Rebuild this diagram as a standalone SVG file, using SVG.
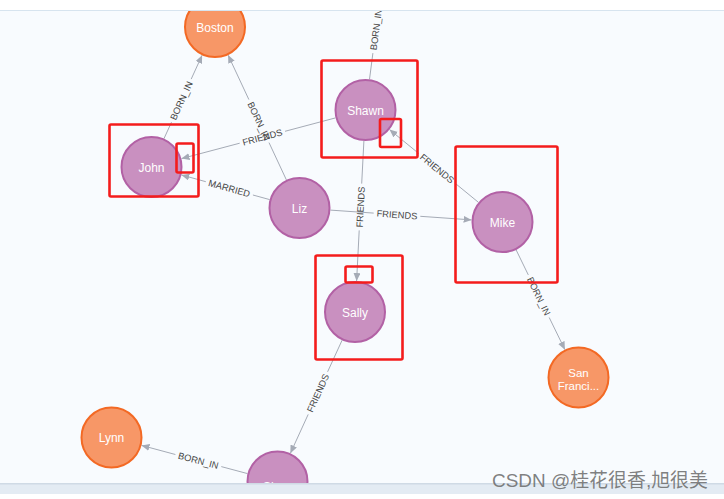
<svg xmlns="http://www.w3.org/2000/svg" width="724" height="499" viewBox="0 0 724 499">
<defs>
<marker id="arr" markerUnits="userSpaceOnUse" markerWidth="9" markerHeight="8" refX="8" refY="3.5" orient="auto">
<path d="M0,0 L8,3.5 L0,7 z" fill="#a5abb6"/>
</marker>
<style>
.e{stroke:#a5abb6;stroke-width:1;fill:none}
.el{font-family:"Liberation Sans",Arial,sans-serif;font-size:9.3px;fill:#444;text-anchor:middle}
.p circle{fill:#c990c0;stroke:#b261a5;stroke-width:2}
.o circle{fill:#f79767;stroke:#f36924;stroke-width:2}
.nl{font-family:"Liberation Sans",Arial,sans-serif;font-size:12px;fill:#fff;text-anchor:middle}
.sf{font-size:11.5px}
.rb{fill:none;stroke:#f41c1c;stroke-width:2.6}
</style>
</defs>
<rect x="0" y="0" width="724" height="499" fill="#f8fbfe"/>
<g id="connectors">
<!-- John -> Boston -->
<line class="e" x1="163.9" y1="138.8" x2="171.5" y2="122.2"/>
<line class="e" x1="191.2" y1="79.1" x2="202.1" y2="55.2" marker-end="url(#arr)"/>
<text class="el" transform="translate(181.35,100.65) rotate(-65.4)" dy="3.3">BORN_IN</text>
<!-- Liz -> Boston -->
<line class="e" x1="286.4" y1="179.9" x2="269.0" y2="142.6"/>
<line class="e" x1="248.9" y1="99.6" x2="228.1" y2="55.1" marker-end="url(#arr)"/>
<text class="el" transform="translate(258.95,121.1) rotate(65)" dy="3.3">BORN_IN</text>
<!-- Shawn -> John -->
<line class="e" x1="335.5" y1="117.9" x2="285.0" y2="131.3"/>
<line class="e" x1="239.7" y1="143.2" x2="181.5" y2="158.6" marker-end="url(#arr)"/>
<text class="el" transform="translate(262.35,137.25) rotate(-14.8)" dy="3.3">FRIENDS</text>
<!-- Liz -> John -->
<line class="e" x1="269.65" y1="199.6" x2="252.9" y2="195.0"/>
<line class="e" x1="205.8" y1="181.7" x2="181.35" y2="174.9" marker-end="url(#arr)"/>
<text class="el" transform="translate(229.35,188.33) rotate(15.7)" dy="3.3">MARRIED</text>
<!-- Liz -> Mike -->
<line class="e" x1="330.4" y1="210.1" x2="373.7" y2="213.1"/>
<line class="e" x1="420.3" y1="216.3" x2="471.6" y2="219.9" marker-end="url(#arr)"/>
<text class="el" transform="translate(397,214.7) rotate(3.9)" dy="3.3">FRIENDS</text>
<!-- Mike -> Shawn -->
<line class="e" x1="478.5" y1="202.4" x2="455.2" y2="183.3"/>
<line class="e" x1="419.0" y1="153.7" x2="389.5" y2="129.6" marker-end="url(#arr)"/>
<text class="el" transform="translate(437.1,168.53) rotate(39.3)" dy="3.3">FRIENDS</text>
<!-- Shawn -> Sally -->
<line class="e" x1="363.9" y1="141.0" x2="361.7" y2="183.6"/>
<line class="e" x1="359.2" y1="230.4" x2="356.6" y2="281.0" marker-end="url(#arr)"/>
<text class="el" transform="translate(360.45,207) rotate(-87)" dy="3.3">FRIENDS</text>
<!-- Shawn -> (off-screen) -->
<line class="e" x1="369.5" y1="79.3" x2="372.9" y2="53.1"/>
<text class="el" transform="translate(376,29.6) rotate(-82.6)" dy="3.3">BORN_IN</text>
<!-- Mike -> San Francisco -->
<line class="e" x1="516.1" y1="249.85" x2="528.3" y2="274.9"/>
<line class="e" x1="549.2" y1="317.5" x2="564.9" y2="349.65" marker-end="url(#arr)"/>
<text class="el" transform="translate(538.75,296.16) rotate(63.95)" dy="3.3">BORN_IN</text>
<!-- Sally -> bottom node -->
<line class="e" x1="342.1" y1="340.2" x2="327.6" y2="371.8"/>
<line class="e" x1="308.2" y1="414.4" x2="290.4" y2="453.3" marker-end="url(#arr)"/>
<text class="el" transform="translate(317.9,393.1) rotate(-65.4)" dy="3.3">FRIENDS</text>
<!-- bottom node -> Lynn -->
<line class="e" x1="247.5" y1="473.6" x2="221.3" y2="466.6"/>
<line class="e" x1="175.4" y1="454.5" x2="141.5" y2="445.4" marker-end="url(#arr)"/>
<text class="el" transform="translate(198.35,460.55) rotate(14.85)" dy="3.3">BORN_IN</text>
</g>
<g id="node-boston" class="o"><circle cx="215" cy="27" r="30"/><text class="nl" x="215" y="31.5">Boston</text></g>
<g id="node-john" class="p"><circle cx="151.5" cy="167" r="30"/><text class="nl" x="151.5" y="171.5">John</text></g>
<g id="node-shawn" class="p"><circle cx="365.5" cy="110" r="30"/><text class="nl" x="365.5" y="114.5">Shawn</text></g>
<g id="node-liz" class="p"><circle cx="299.5" cy="208" r="30"/><text class="nl" x="299.5" y="212.5">Liz</text></g>
<g id="node-mike" class="p"><circle cx="502.5" cy="222" r="30"/><text class="nl" x="502.5" y="226.5">Mike</text></g>
<g id="node-sally" class="p"><circle cx="355" cy="312" r="30"/><text class="nl" x="355" y="316.5">Sally</text></g>
<g id="node-sf" class="o"><circle cx="578.5" cy="377.5" r="30"/><text class="nl sf" x="578.5" y="377">San</text><text class="nl sf" x="578.5" y="389.5">Franci...</text></g>
<g id="node-lynn" class="o"><circle cx="111.5" cy="437.5" r="30"/><text class="nl" x="111.5" y="442">Lynn</text></g>
<g id="node-bottom" class="p"><circle cx="277.5" cy="481.5" r="30"/><text class="nl" x="263" y="491" style="text-anchor:start">Sh</text></g>
<g id="frame">
<rect x="0" y="0" width="724" height="10" fill="#ffffff"/>
<rect x="0" y="10" width="724" height="1" fill="#d7e4ef"/>
<rect x="0" y="483" width="724" height="11" fill="#e3ebf3"/>
<rect x="0" y="483" width="724" height="1.5" fill="#cfdae5"/>
<rect x="0" y="494" width="724" height="5" fill="#ffffff"/>
</g>
<g id="highlights">
<rect class="rb" x="109.5" y="124.5" width="89" height="72" rx="1.5"/>
<rect class="rb" x="176.5" y="143.5" width="17" height="29" rx="1.5"/>
<rect class="rb" x="321.5" y="60.5" width="96" height="97" rx="1.5"/>
<rect class="rb" x="380" y="119" width="21" height="28" rx="1.5"/>
<rect class="rb" x="455.5" y="146.5" width="102" height="136" rx="1.5"/>
<rect class="rb" x="315.5" y="255.5" width="87" height="104" rx="1.5"/>
<rect class="rb" x="345.5" y="266.5" width="27" height="16" rx="1.5"/>
</g>
<text x="492" y="487" font-family="'Liberation Sans','Noto Sans CJK SC',sans-serif" font-size="19" textLength="216" lengthAdjust="spacingAndGlyphs" fill="#6a6a6a" fill-opacity="0.85">CSDN @桂花很香,旭很美</text>
</svg>
